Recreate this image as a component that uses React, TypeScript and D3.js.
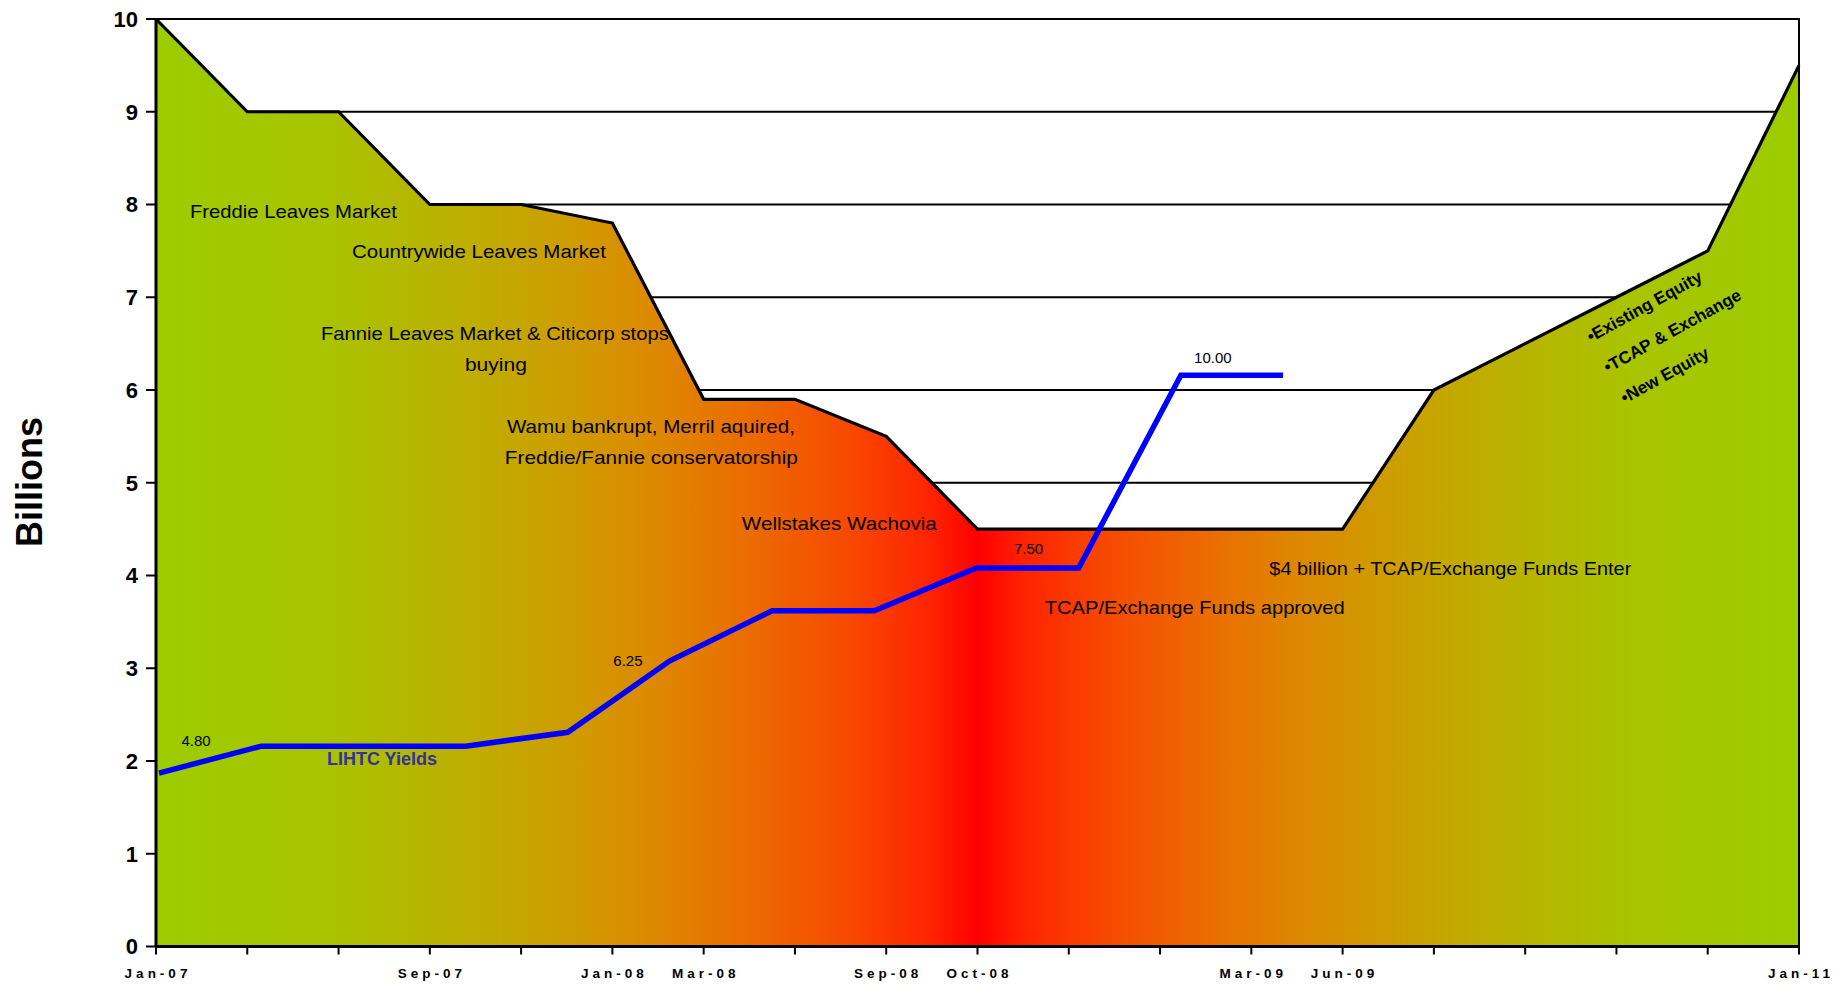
import React from 'react'
import * as d3 from 'd3'

// Category axis (19 monthly slots, only some are labelled)
const categories = [
    'Jan-07', '', '', 'Sep-07', '', 'Jan-08', 'Mar-08', '', 'Sep-08', 'Oct-08',
    '', '', 'Mar-09', 'Jun-09', '', '', '', '', 'Jan-11',
]
// Market size in billions (area)
const marketSize = [10, 9, 9, 8, 8, 7.8, 5.9, 5.9, 5.5, 4.5, 4.5, 4.5, 4.5, 4.5, 6, 6.5, 7, 7.5, 9.5]
// LIHTC yields line (plotted on its own secondary category axis of 17 slots)
const lihtcYields = [1.87, 2.16, 2.16, 2.16, 2.31, 3.08, 3.62, 3.62, 4.08, 4.08, 6.16, 6.16]
const lineSlots = 17
const yieldLabels = ['4.80', '6.25', '7.50', '10.00']
const yTicks = [0, 1, 2, 3, 4, 5, 6, 7, 8, 9, 10]

const events = [
    'Freddie Leaves Market',
    'Countrywide Leaves Market',
    'Fannie Leaves Market & Citicorp stops',
    'buying',
    'Wamu bankrupt, Merril aquired,',
    'Freddie/Fannie conservatorship',
    'Wellstakes Wachovia',
    'TCAP/Exchange Funds approved',
    '$4 billion + TCAP/Exchange Funds Enter',
]
const bullets = ['•Existing Equity', '•TCAP & Exchange', '•New Equity']

// layout for the text notes: category index / value anchor, anchor mode, fitted width
const eventLayout = [
    { xi: 0.372, v: 7.855, anchor: 'start', w: 207 },
    { xi: 2.147, v: 7.423, anchor: 'start', w: 254 },
    { xi: 3.713, v: 6.539, anchor: 'middle', w: 348 },
    { xi: 3.724, v: 6.205, anchor: 'middle', w: 62 },
    { xi: 5.422, v: 5.536, anchor: 'middle', w: 288 },
    { xi: 5.427, v: 5.202, anchor: 'middle', w: 293 },
    { xi: 7.486, v: 4.491, anchor: 'middle', w: 195 },
    { xi: 11.38, v: 3.585, anchor: 'middle', w: 300 },
    { xi: 14.18, v: 4.005, anchor: 'middle', w: 362 },
]
// yield labels: attached to a line point with an offset
const yieldLabelLayout = [
    { k: 0, dx: 37, dy: -27 },
    { k: 5, dx: -42, dy: 5 },
    { k: 8, dx: 52, dy: -14 },
    { k: 10, dx: 32, dy: -12 },
]

const gradientStops = [
    [0, '#9ccc00'], [0.1, '#a8c400'], [0.18, '#bbb100'], [0.24, '#cba000'],
    [0.3, '#dc8a00'], [0.36, '#eb6c00'], [0.42, '#f74a00'], [0.47, '#ff2500'], [0.5, '#ff0000'],
]

const App: React.FC = () => {
    const width = 1839
    const height = 985
    const margin = { top: 19, left: 156, right: 40, bottom: 38.5 }
    const W = width - margin.left - margin.right
    const H = height - margin.top - margin.bottom

    const x = d3.scaleLinear().domain([0, categories.length - 1]).range([0, W])
    const xl = d3.scaleLinear().domain([0, lineSlots - 1]).range([3, W - 5])
    const y = d3.scaleLinear().domain([0, 10]).range([H, 0])

    const area = d3
        .area<number>()
        .x((_, i) => x(i))
        .y0(H)
        .y1((d) => y(d))
    const top = d3
        .line<number>()
        .x((_, i) => x(i))
        .y((d) => y(d))
    const yieldLine = d3
        .line<number>()
        .x((_, i) => xl(i))
        .y((d) => y(d))

    const stops = [
        ...gradientStops,
        ...gradientStops
            .slice(0, -1)
            .reverse()
            .map(([o, c]) => [1 - (o as number), c]),
    ]

    const font = 'Arial, "Liberation Sans", sans-serif'

    return (
        <svg
            width={width}
            height={height}
            style={{ position: 'absolute', left: 0, top: 0, background: '#fff' }}
            fontFamily={font}
        >
            <defs>
                <linearGradient id="fillGrad" x1="0" y1="0" x2="1" y2="0">
                    {stops.map(([o, c], i) => (
                        <stop key={i} offset={o as number} stopColor={c as string} />
                    ))}
                </linearGradient>
            </defs>
            <g transform={`translate(${margin.left},${margin.top})`}>
                {/* gridlines */}
                {yTicks.slice(1).map((t) => (
                    <line key={t} x1={0} x2={W} y1={y(t)} y2={y(t)} stroke="#000" strokeWidth={2} />
                ))}
                <rect x={0} y={0} width={W} height={H} fill="none" stroke="#000" strokeWidth={2} />

                {/* market area */}
                <path d={area(marketSize) || ''} fill="url(#fillGrad)" />
                <path d={top(marketSize) || ''} fill="none" stroke="#000" strokeWidth={3.2} strokeLinejoin="miter" />

                {/* axes */}
                <line x1={0} x2={0} y1={0} y2={H} stroke="#000" strokeWidth={3} />
                <line x1={0} x2={W} y1={H} y2={H} stroke="#000" strokeWidth={3} />
                <line x1={W} x2={W} y1={0} y2={H} stroke="#000" strokeWidth={2} />
                {yTicks.map((t) => (
                    <g key={t} transform={`translate(0,${y(t)})`}>
                        <line x1={-10} x2={0} stroke="#000" strokeWidth={2} />
                        <text x={-18} dy="0.36em" textAnchor="end" fontSize={22} fontWeight="bold">
                            {t}
                        </text>
                    </g>
                ))}
                {categories.map((c, i) => (
                    <g key={i} transform={`translate(${x(i)},${H})`}>
                        <line y1={0} y2={8} stroke="#000" strokeWidth={2} />
                        {c && (
                            <text y={31} dx={2} textAnchor="middle" fontSize={13.5} fontWeight="bold" letterSpacing={4}>
                                {c}
                            </text>
                        )}
                    </g>
                ))}

                {/* yields line */}
                <path d={yieldLine(lihtcYields) || ''} fill="none" stroke="#0000ff" strokeWidth={5.5} strokeLinejoin="miter" />
                {yieldLabelLayout.map((l, i) => (
                    <text
                        key={i}
                        x={xl(l.k) + l.dx}
                        y={y(lihtcYields[l.k]) + l.dy}
                        textAnchor="middle"
                        fontSize={15}
                        fill="#000"
                    >
                        {yieldLabels[i]}
                    </text>
                ))}
                <text x={x(2.475)} y={y(1.957)} textAnchor="middle" fontSize={18} fontWeight="bold" fill="#333399">
                    LIHTC Yields
                </text>

                {/* event notes */}
                {events.map((e, i) => {
                    const l = eventLayout[i]
                    return (
                        <text
                            key={i}
                            x={x(l.xi)}
                            y={y(l.v)}
                            textAnchor={l.anchor}
                            fontSize={19}
                            textLength={l.w}
                            lengthAdjust="spacingAndGlyphs"
                            fill="#000"
                        >
                            {e}
                        </text>
                    )
                })}

                {/* equity bullets */}
                <g transform={`translate(${x(15.72)},${y(6.51)}) rotate(-29)`}>
                    {bullets.map((b, i) => (
                        <text key={i} x={0} y={i * 35} fontSize={17} fontWeight="bold" fill="#000">
                            {b}
                        </text>
                    ))}
                </g>
            </g>
            <text
                transform={`translate(42,482) rotate(-90)`}
                textAnchor="middle"
                fontSize={36}
                fontWeight="bold"
            >
                Billions
            </text>
        </svg>
    )
}

export default App
